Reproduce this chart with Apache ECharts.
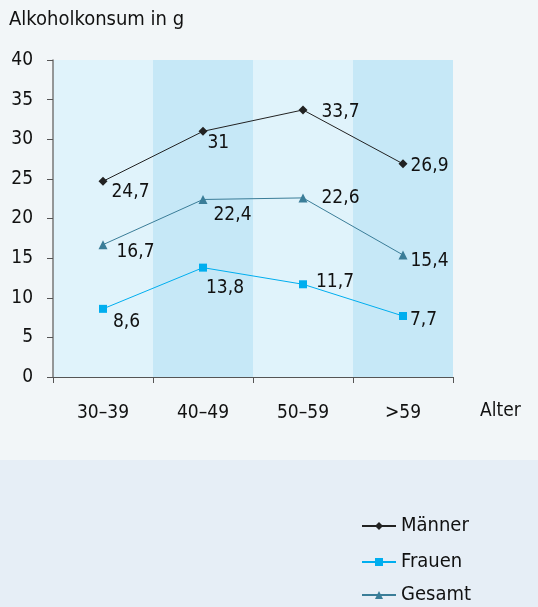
<!DOCTYPE html>
<html><head><meta charset="utf-8">
<script src="https://cdn.jsdelivr.net/npm/echarts@6/dist/echarts.min.js"></script>
<style>html,body{margin:0;padding:0;background:#f2f6f8}#c{width:538px;height:607px}</style>
</head><body><div id="c"></div>
<script>
const categories = ['30–39', '40–49', '50–59', '>59'];
const maenner = [24.7, 31, 33.7, 26.9];
const frauen = [8.6, 13.8, 11.7, 7.7];
const gesamt = [16.7, 22.4, 22.6, 15.4];
const yTicks = [0, 5, 10, 15, 20, 25, 30, 35, 40];
const seriesNames = ['Männer', 'Frauen', 'Gesamt'];

const FONT = '"DejaVu Sans Condensed", "Liberation Sans Narrow", "Open Sans", sans-serif';
const fmt = p => String(p.value).replace('.', ',');

const mLabelPos = [[-1, 11], [-5, 12], [9, 2], [-2, 2]];
const fLabelPos = [[1, 13], [-6, 20], [4, -2], [-2, 4]];
const gLabelPos = [[4, 7], [1, 16], [9, 0], [-2, 6]];

function items(vals, pos) {
  return vals.map((v, i) => ({
    value: v,
    label: { position: 'right', offset: pos[i] }
  }));
}

const labelStyle = { show: true, formatter: fmt, fontFamily: FONT, fontSize: 19, color: '#111' };
const legendTops = [511, 547, 580];

const chart = echarts.init(document.getElementById('c'));
chart.setOption({
  animation: false,
  backgroundColor: '#f2f6f8',
  graphic: [{ type: 'rect', left: 0, top: 460, shape: { width: 538, height: 147 }, style: { fill: '#e6eef6' }, z: -10 }],
  title: { text: 'Alkoholkonsum in g', left: 4, top: 5, textStyle: { fontFamily: FONT, fontSize: 20, fontWeight: 'normal', color: '#111' } },
  grid: { left: 53, right: 85, top: 60, bottom: 230 },
  legend: seriesNames.map((n, i) => ({
    orient: 'vertical', left: 356, top: legendTops[i], itemWidth: 34, itemHeight: 10, itemGap: 8,
    textStyle: { fontFamily: FONT, fontSize: 20, color: '#111' },
    data: [n]
  })),
  xAxis: {
    type: 'category', data: categories, boundaryGap: true,
    axisLine: { show: true, lineStyle: { color: '#555' } },
    axisTick: { show: true, length: 6, lineStyle: { color: '#555' } },
    axisLabel: { fontFamily: FONT, fontSize: 19, color: '#111', margin: 27 },
    splitArea: { show: true, areaStyle: { color: ['#e0f3fb', '#c6e8f7'] } },
    splitLine: { show: false },
    name: 'Alter', nameLocation: 'end', nameGap: 27,
    nameTextStyle: { fontFamily: FONT, fontSize: 19, color: '#111', verticalAlign: 'top', padding: [25, 0, 0, 0] }
  },
  yAxis: {
    type: 'value', min: 0, max: 40, interval: 5,
    axisLine: { show: true, lineStyle: { color: '#777', width: 1.5 } },
    axisTick: { show: true, length: 6, lineStyle: { color: '#555' } },
    axisLabel: { fontFamily: FONT, fontSize: 19, color: '#111', margin: 20,
      formatter: v => yTicks.includes(v) ? String(v) : '' },
    splitLine: { show: true, lineStyle: { color: '#444', width: 1 } }
  },
  series: [
    { name: seriesNames[0], type: 'line', data: items(maenner, mLabelPos), symbol: 'diamond', symbolSize: 9,
      itemStyle: { color: '#222' }, lineStyle: { color: '#222', width: 1 }, label: labelStyle, z: 5 },
    { name: seriesNames[1], type: 'line', data: items(frauen, fLabelPos), symbol: 'rect', symbolSize: 8,
      itemStyle: { color: '#00aeef' }, lineStyle: { color: '#00aeef', width: 1 }, label: labelStyle },
    { name: seriesNames[2], type: 'line', data: items(gesamt, gLabelPos), symbol: 'triangle', symbolSize: 9,
      itemStyle: { color: '#3a7d98' }, lineStyle: { color: '#3a7d98', width: 1 }, label: labelStyle }
  ]
});
</script></body></html>
